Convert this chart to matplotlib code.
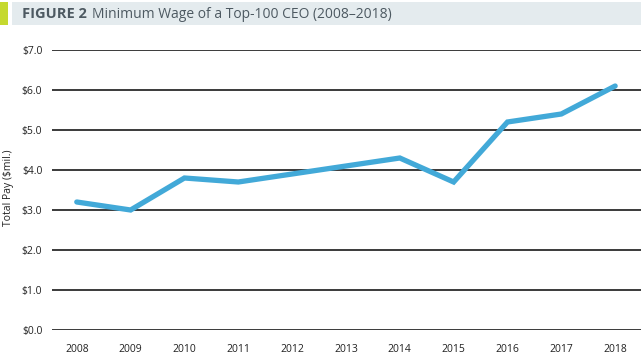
import matplotlib.pyplot as plt
import matplotlib.patches as patches

years = [2008, 2009, 2010, 2011, 2012, 2013, 2014, 2015, 2016, 2017, 2018]
pay = [3.2, 3.0, 3.8, 3.7, 3.9, 4.1, 4.3, 3.7, 5.2, 5.4, 6.1]
y_ticks = [0, 1, 2, 3, 4, 5, 6, 7]
y_labels = ["$%.1f" % v for v in y_ticks]

plt.rcParams['font.family'] = ['Open Sans', 'DejaVu Sans']

W, H = 641, 358
fig = plt.figure(figsize=(W / 100, H / 100), dpi=100)
fig.patch.set_facecolor('#ffffff')

# title bar
fig.patches.append(patches.Rectangle((0, 1 - 25 / H), 8 / W, 23 / H, transform=fig.transFigure,
                                     facecolor='#c5d92f', edgecolor='none'))
fig.patches.append(patches.Rectangle((12 / W, 1 - 25 / H), 1 - 12 / W, 23 / H, transform=fig.transFigure,
                                     facecolor='#e4ebee', edgecolor='none'))
fig.text(22 / W, 1 - 14 / H, "FIGURE 2", fontsize=10.5, fontweight='bold', color='#4d5961',
         va='center', ha='left')
fig.text(92 / W, 1 - 14 / H, "Minimum Wage of a Top-100 CEO (2008\u20132018)", fontsize=10,
         color='#4d5961', va='center', ha='left')

# plot area
ax = fig.add_axes([52 / W, 1 - 330 / H, 1 - 52 / W, 280 / H])
ax.set_xlim(2007.54, 2018.48)
ax.set_ylim(0, 7)
for spine in ax.spines.values():
    spine.set_visible(False)
ax.set_yticks(y_ticks)
ax.set_yticklabels(y_labels)
ax.set_xticks(years)
ax.set_xticklabels([str(y) for y in years])
ax.tick_params(length=0, labelsize=7.5, colors='#222222')
ax.tick_params(axis='y', pad=7)
ax.tick_params(axis='x', pad=10)
ax.grid(axis='y', color='#3a3a3a', linewidth=1.4)
ax.set_axisbelow(True)
fig.text(9 / W, 1 - 188 / H, "Total Pay ($mil.)", fontsize=7.5, color='#222222',
         rotation=90, ha='center', va='center')

ax.plot(years, pay, color='#42a9d8', linewidth=3.8, solid_capstyle='round',
        solid_joinstyle='miter', clip_on=False, zorder=3)

plt.savefig('out.png', dpi=100)
plt.close()
